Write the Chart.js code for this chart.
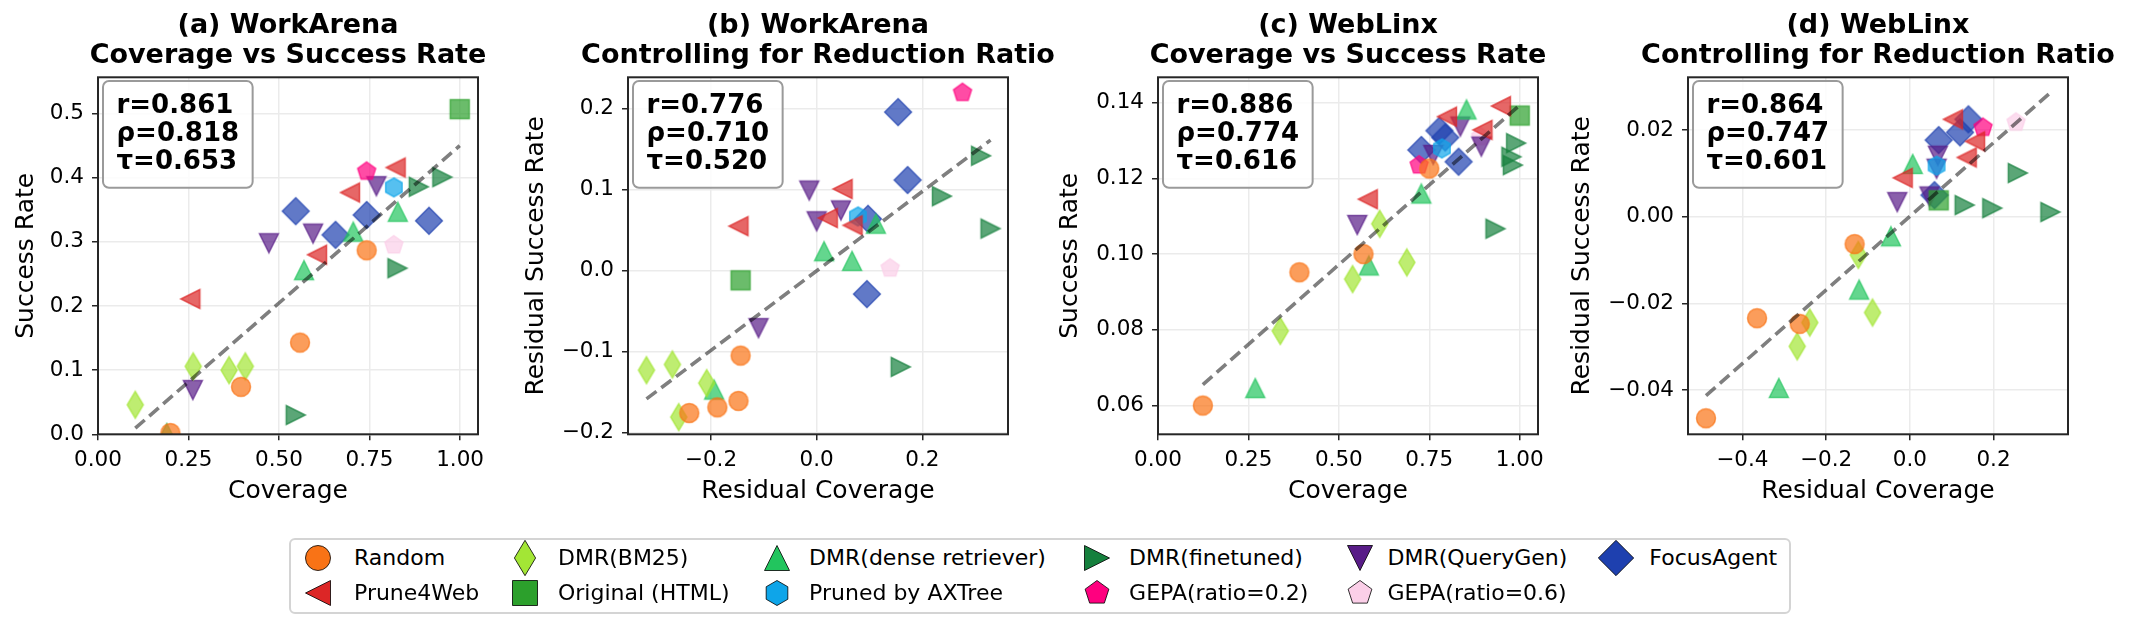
<!DOCTYPE html>
<html>
<head>
<meta charset="utf-8">
<script src="https://cdn.jsdelivr.net/npm/chart.js@4.4.1/dist/chart.umd.min.js"></script>
<style>
html,body{margin:0;padding:0;background:#fff;}
body{width:2130px;height:629px;position:relative;overflow:hidden;font-family:'DejaVu Sans',sans-serif;}
canvas.panel{position:absolute;top:0;}
#legendBox{position:absolute;left:289px;top:538px;width:1502px;height:76px;box-sizing:border-box;border:2px solid #d4d4d4;border-radius:6px;background:#fff;}
.lgMark{position:absolute;}
.lgText{position:absolute;font-family:'DejaVu Sans',sans-serif;font-size:22px;line-height:26px;color:#000;white-space:nowrap;}
</style>
</head>
<body>
<canvas id="c0" class="panel" width="640" height="510" style="left:-32px"></canvas>
<canvas id="c1" class="panel" width="640" height="510" style="left:498px"></canvas>
<canvas id="c2" class="panel" width="640" height="510" style="left:1028px"></canvas>
<canvas id="c3" class="panel" width="640" height="510" style="left:1558px"></canvas>
<div id="legendBox"></div>
<script>
// ================= DATA =================
const methodNames = ['Random','Prune4Web','DMR(BM25)','Original (HTML)','DMR(dense retriever)','Pruned by AXTree','DMR(finetuned)','GEPA(ratio=0.2)','DMR(QueryGen)','GEPA(ratio=0.6)','FocusAgent'];

// (a) WorkArena: Coverage vs Success Rate  [coverage, success]
const a_random    = [[0.200,0.002],[0.395,0.074],[0.558,0.143],[0.742,0.287]];
const a_prune4web = [[0.255,0.211],[0.605,0.280],[0.696,0.377],[0.822,0.416]];
const a_bm25      = [[0.103,0.046],[0.263,0.106],[0.362,0.100],[0.407,0.106]];
const a_html      = [[0.999,0.507]];
const a_dense     = [[0.190,0.002],[0.569,0.256],[0.705,0.316],[0.828,0.347]];
const a_axtree    = [[0.817,0.385]];
const a_finetuned = [[0.546,0.030],[0.827,0.259],[0.886,0.386],[0.951,0.401]];
const a_gepa02    = [[0.742,0.410]];
const a_querygen  = [[0.262,0.069],[0.472,0.298],[0.594,0.313],[0.769,0.387]];
const a_gepa06    = [[0.817,0.295]];
const a_focus     = [[0.546,0.348],[0.656,0.311],[0.742,0.342],[0.914,0.333]];

// (b) WorkArena: residuals
const b_random    = [[-0.241,-0.176],[-0.188,-0.169],[-0.148,-0.161],[-0.144,-0.105]];
const b_prune4web = [[-0.148,0.055],[0.021,0.065],[0.049,0.101],[0.068,0.056]];
const b_bm25      = [[-0.322,-0.123],[-0.273,-0.116],[-0.208,-0.139],[-0.261,-0.181]];
const b_html      = [[-0.144,-0.012]];
const b_dense     = [[-0.194,-0.147],[0.014,0.024],[0.067,0.012],[0.112,0.058]];
const b_axtree    = [[0.078,0.067]];
const b_finetuned = [[0.159,-0.119],[0.237,0.092],[0.311,0.142],[0.329,0.052]];
const b_gepa02    = [[0.276,0.220]];
const b_querygen  = [[-0.110,-0.071],[-0.014,0.099],[0.000,0.061],[0.046,0.0745]];
const b_gepa06    = [[0.139,0.003]];
const b_focus     = [[0.154,0.196],[0.172,0.112],[0.097,0.064],[0.095,-0.029]];

// (c) WebLinx: Coverage vs Success Rate
const c_random    = [[0.124,0.0600],[0.391,0.0952],[0.568,0.1000],[0.750,0.1226]];
const c_prune4web = [[0.580,0.1145],[0.799,0.1363],[0.897,0.1328],[0.948,0.1391]];
const c_bm25      = [[0.338,0.0797],[0.538,0.0934],[0.613,0.1080],[0.688,0.0978]];
const c_html      = [[1.000,0.1366]];
const c_dense     = [[0.269,0.0646],[0.583,0.0970],[0.728,0.1160],[0.853,0.1382]];
const c_axtree    = [[0.785,0.1279]];
const c_finetuned = [[0.933,0.1067],[0.977,0.1257],[0.981,0.1235],[0.990,0.1293]];
const c_gepa02    = [[0.722,0.1235]];
const c_querygen  = [[0.551,0.1077],[0.761,0.1262],[0.836,0.1337],[0.894,0.1284]];
const c_gepa06    = [[0.892,0.1310]];
const c_focus     = [[0.728,0.1275],[0.778,0.1326],[0.794,0.1308],[0.831,0.1244]];

// (d) WebLinx: residuals
const d_random    = [[-0.487,-0.0465],[-0.365,-0.0234],[-0.263,-0.0247],[-0.132,-0.0063]];
const d_prune4web = [[-0.017,0.0090],[0.103,0.0225],[0.136,0.0137],[0.156,0.0174]];
const d_bm25      = [[-0.269,-0.0299],[-0.239,-0.0244],[-0.123,-0.0088],[-0.089,-0.0221]];
const d_html      = [[0.069,0.0038]];
const d_dense     = [[-0.313,-0.0395],[-0.121,-0.0168],[-0.045,-0.0045],[0.007,0.0122]];
const d_axtree    = [[0.064,0.0118]];
const d_finetuned = [[0.131,0.0027],[0.197,0.0020],[0.258,0.0101],[0.336,0.0011]];
const d_gepa02    = [[0.175,0.0206]];
const d_querygen  = [[-0.030,0.0034],[0.047,0.0047],[0.064,0.0111],[0.067,0.0141]];
const d_gepa06    = [[0.254,0.0218]];
const d_focus     = [[0.059,0.0050],[0.069,0.0177],[0.120,0.0195],[0.140,0.0225]];

// correlation annotations
const statsA = ['r=0.861','ρ=0.818','τ=0.653'];
const statsB = ['r=0.776','ρ=0.710','τ=0.520'];
const statsC = ['r=0.886','ρ=0.774','τ=0.616'];
const statsD = ['r=0.864','ρ=0.747','τ=0.601'];

// titles / labels
const titlesA = ['(a) WorkArena','Coverage vs Success Rate'];
const titlesB = ['(b) WorkArena','Controlling for Reduction Ratio'];
const titlesC = ['(c) WebLinx','Coverage vs Success Rate'];
const titlesD = ['(d) WebLinx','Controlling for Reduction Ratio'];
const xAxisLabels = ['Coverage','Residual Coverage','Coverage','Residual Coverage'];
const yAxisLabels = ['Success Rate','Residual Success Rate','Success Rate','Residual Success Rate'];

// ticks
const xTicksA = [0,0.25,0.5,0.75,1.0];      const xTickLabelsA = ['0.00','0.25','0.50','0.75','1.00'];
const yTicksA = [0,0.1,0.2,0.3,0.4,0.5];    const yTickLabelsA = ['0.0','0.1','0.2','0.3','0.4','0.5'];
const xTicksB = [-0.2,0,0.2];               const xTickLabelsB = ['−0.2','0.0','0.2'];
const yTicksB = [-0.2,-0.1,0,0.1,0.2];      const yTickLabelsB = ['−0.2','−0.1','0.0','0.1','0.2'];
const xTicksC = [0,0.25,0.5,0.75,1.0];      const xTickLabelsC = ['0.00','0.25','0.50','0.75','1.00'];
const yTicksC = [0.06,0.08,0.10,0.12,0.14]; const yTickLabelsC = ['0.06','0.08','0.10','0.12','0.14'];
const xTicksD = [-0.4,-0.2,0,0.2];          const xTickLabelsD = ['−0.4','−0.2','0.0','0.2'];
const yTicksD = [-0.04,-0.02,0,0.02];       const yTickLabelsD = ['−0.04','−0.02','0.00','0.02'];

// ================= STYLE =================
const methodColors = ['#f97316','#dc2626','#a3e635','#2ca02c','#22c55e','#0ea5e9','#15803d','#ff007f','#581c87','#fbcfe8','#1e40af'];
const methodShapes = ['o','<','d','s','^','h','>','p','v','p','D'];

function markerPath(g, shape, S) {
  const h = S/2, d = S*Math.SQRT1_2;
  g.beginPath();
  const poly = pts => { g.moveTo(pts[0][0],pts[0][1]); for (let i=1;i<pts.length;i++) g.lineTo(pts[i][0],pts[i][1]); g.closePath(); };
  switch (shape) {
    case 'o': g.arc(0,0,h,0,Math.PI*2); break;
    case '^': poly([[0,-h],[h,h],[-h,h]]); break;
    case 'v': poly([[0,h],[h,-h],[-h,-h]]); break;
    case '<': poly([[-h,0],[h,-h],[h,h]]); break;
    case '>': poly([[h,0],[-h,-h],[-h,h]]); break;
    case 's': poly([[-h,-h],[h,-h],[h,h],[-h,h]]); break;
    case 'D': poly([[0,-d],[d,0],[0,d],[-d,0]]); break;
    case 'd': poly([[0,-d],[0.6*d,0],[0,d],[-0.6*d,0]]); break;
    case 'p': { const p=[]; for(let k=0;k<5;k++){const a=-Math.PI/2+k*2*Math.PI/5; p.push([h*Math.cos(a),h*Math.sin(a)]);} poly(p); break; }
    case 'h': { const p=[]; for(let k=0;k<6;k++){const a=-Math.PI/2+k*Math.PI/3; p.push([h*Math.cos(a),h*Math.sin(a)]);} poly(p); break; }
  }
}
function markerCanvas(shape, color, S, alpha, edge, edgeW) {
  let n = Math.ceil(S*1.6)+4; if (n%2) n++;
  const c = document.createElement('canvas'); c.width = n; c.height = n;
  const g = c.getContext('2d');
  g.translate(n/2, n/2);
  markerPath(g, shape, S);
  g.globalAlpha = alpha;
  g.fillStyle = color; g.fill();
  g.lineWidth = edgeW; g.strokeStyle = edge; g.lineJoin = 'miter'; g.stroke();
  return c;
}

// ================= PANELS =================
const panels = [
  {canvas:'c0', series:[a_random,a_prune4web,a_bm25,a_html,a_dense,a_axtree,a_finetuned,a_gepa02,a_querygen,a_gepa06,a_focus],
   titles:titlesA, stats:statsA, xr:[0,1.0495], yr:[0,0.5567], xt:xTicksA, xl:xTickLabelsA, yt:yTicksA, yl:yTickLabelsA, yPad:43.3},
  {canvas:'c1', series:[b_random,b_prune4web,b_bm25,b_html,b_dense,b_axtree,b_finetuned,b_gepa02,b_querygen,b_gepa06,b_focus],
   titles:titlesB, stats:statsB, xr:[-0.357,0.362], yr:[-0.2023,0.239], xt:xTicksB, xl:xTickLabelsB, yt:yTicksB, yl:yTickLabelsB, yPad:23.1},
  {canvas:'c2', series:[c_random,c_prune4web,c_bm25,c_html,c_dense,c_axtree,c_finetuned,c_gepa02,c_querygen,c_gepa06,c_focus],
   titles:titlesC, stats:statsC, xr:[0,1.0506], yr:[0.0524,0.1467], xt:xTicksC, xl:xTickLabelsC, yt:yTicksC, yl:yTickLabelsC, yPad:27.9},
  {canvas:'c3', series:[d_random,d_prune4web,d_bm25,d_html,d_dense,d_axtree,d_finetuned,d_gepa02,d_querygen,d_gepa06,d_focus],
   titles:titlesD, stats:statsD, xr:[-0.530,0.378], yr:[-0.0502,0.0322], xt:xTicksD, xl:xTickLabelsD, yt:yTicksD, yl:yTickLabelsD, yPad:9.2}
];

const FRAME_LEFT = 130, CANVAS_H = 510, AREA_BOTTOM = 434.3;

const framePlugin = {
  id: 'frameAndStats',
  afterDraw(chart, args, opts) {
    const {ctx, chartArea: a} = chart;
    ctx.save();
    ctx.lineWidth = 2; ctx.strokeStyle = '#262626';
    ctx.strokeRect(a.left, a.top, a.right - a.left, a.bottom - a.top);
    // stats box
    const lines = opts.lines || [];
    ctx.font = 'bold 26px "DejaVu Sans"';
    let w = 0; lines.forEach(t => { w = Math.max(w, ctx.measureText(t).width); });
    const bx = a.left + 5, by = a.top + 3.7, bw = w + 27, bh = 106.7;
    ctx.beginPath();
    ctx.roundRect(bx, by, bw, bh, 6);
    ctx.fillStyle = 'rgba(255,255,255,0.85)'; ctx.fill();
    ctx.lineWidth = 2; ctx.strokeStyle = '#9a9a9a'; ctx.stroke();
    ctx.fillStyle = '#000'; ctx.textBaseline = 'alphabetic'; ctx.textAlign = 'left';
    const bl = [36, 63.8, 91.2];
    lines.forEach((t, i) => ctx.fillText(t, bx + 13.5, a.top + bl[i]));
    ctx.restore();
  }
};

function fitLine(all) {
  const n = all.length;
  let sx=0, sy=0; all.forEach(([x,y]) => { sx+=x; sy+=y; });
  const mx = sx/n, my = sy/n;
  let sxx=0, sxy=0; all.forEach(([x,y]) => { sxx+=(x-mx)*(x-mx); sxy+=(x-mx)*(y-my); });
  const m = sxy/sxx, b = my - m*mx;
  const xs = all.map(p=>p[0]);
  const x0 = Math.min(...xs), x1 = Math.max(...xs);
  return [{x:x0, y:m*x0+b}, {x:x1, y:m*x1+b}];
}

const plotMarkers = methodShapes.map((s,i) => markerCanvas(s, methodColors[i], 19, 0.7, methodColors[i], 1.5));

panels.forEach((p, pi) => {
  const datasets = [];
  p.series.forEach((pts, mi) => {
    datasets.push({
      type:'scatter', label: methodNames[mi],
      data: pts.map(([x,y]) => ({x, y})),
      pointStyle: plotMarkers[mi], pointRadius: 10, pointHoverRadius: 10,
      clip: 0, order: 0, xAxisID:'x', yAxisID:'y'
    });
  });
  const all = [].concat(...p.series);
  datasets.push({
    type:'line', label:'fit', data: fitLine(all),
    borderColor:'rgba(0,0,0,0.5)', borderWidth:3.6, borderDash:[12.5,6], borderCapStyle:'butt',
    pointRadius:0, fill:false, order:-1, clip:0, xAxisID:'x', yAxisID:'y'
  });
  const tickFont = {family:'DejaVu Sans', size:21.5};
  new Chart(document.getElementById(p.canvas), {
    type:'scatter',
    data:{datasets},
    options:{
      responsive:false, animation:false, devicePixelRatio:1,
      layout:{padding:{left:0,right:0,top:0,bottom:0}},
      plugins:{
        legend:{display:false}, tooltip:{enabled:false},
        title:{display:true, text:p.titles, color:'#000', fullSize:true,
               font:{family:'DejaVu Sans', size:27, weight:'bold', lineHeight:'30px'},
               padding:{top:10.7, bottom:6.6}},
        frameAndStats:{lines:p.stats}
      },
      scales:{
        x:{type:'linear', position:'bottom', min:p.xr[0], max:p.xr[1],
           afterBuildTicks:(ax)=>{ ax.ticks = p.xt.map(v=>({value:v})); },
           afterFit:(s)=>{ s.height = CANVAS_H - AREA_BOTTOM; s.paddingLeft = 0; s.paddingRight = 0; },
           ticks:{autoSkip:false, maxRotation:0, minRotation:0, padding:7, color:'#000', font:tickFont,
                  callback:(v,i)=>p.xl[i]},
           grid:{color:'#ebebeb', lineWidth:1.5, drawTicks:true, tickLength:6, tickColor:'#262626', tickWidth:1.5},
           border:{display:false},
           title:{display:true, text:xAxisLabels[pi], color:'#000', font:{family:'DejaVu Sans', size:25}, padding:{top:0,bottom:4}}
        },
        y:{type:'linear', position:'left', min:p.yr[0], max:p.yr[1],
           afterBuildTicks:(ax)=>{ ax.ticks = p.yt.map(v=>({value:v})); },
           afterFit:(s)=>{ s.width = FRAME_LEFT; s.paddingTop = 0; s.paddingBottom = 0; },
           ticks:{autoSkip:false, padding:8, color:'#000', font:tickFont, callback:(v,i)=>p.yl[i]},
           grid:{color:'#ebebeb', lineWidth:1.5, drawTicks:true, tickLength:6, tickColor:'#262626', tickWidth:1.5},
           border:{display:false},
           title:{display:true, text:yAxisLabels[pi], color:'#000', font:{family:'DejaVu Sans', size:25}, padding:{top:p.yPad,bottom:0}}
        },
        yR:{type:'linear', position:'right', min:0, max:1, display:true,
           afterFit:(s)=>{ s.width = FRAME_LEFT; s.paddingTop = 0; s.paddingBottom = 0; },
           ticks:{display:false}, grid:{display:false, drawTicks:false}, border:{display:false}, title:{display:false}
        }
      }
    },
    plugins:[framePlugin]
  });
});

// ================= LEGEND =================
const legendMarkX = [318.3, 524.9, 777.4, 1096.7, 1359.9, 1616.3];
const legendTextX = [354, 558, 809.1, 1129.1, 1387.5, 1649.3];
const legendRowY  = [558.3, 592.7];
methodNames.forEach((name, i) => {
  const col = Math.floor(i/2), row = i % 2;
  const m = markerCanvas(methodShapes[i], methodColors[i], 25, 1, '#000', 0.8);
  m.className = 'lgMark';
  m.style.left = (legendMarkX[col] - m.width/2) + 'px';
  m.style.top = (legendRowY[row] - m.height/2) + 'px';
  document.body.appendChild(m);
  const t = document.createElement('span');
  t.className = 'lgText';
  t.textContent = name;
  t.style.left = legendTextX[col] + 'px';
  t.style.top = (legendRowY[row] - 13) + 'px';
  document.body.appendChild(t);
});
</script>
</body>
</html>
